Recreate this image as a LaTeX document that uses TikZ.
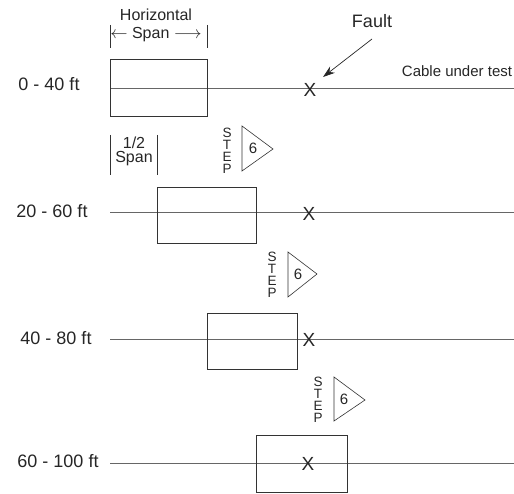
\documentclass[tikz,border=0pt]{standalone}
\usepackage{fontspec}
\setmainfont{Liberation Sans}
\usetikzlibrary{arrows.meta}
\begin{document}
\begin{tikzpicture}[x=1pt,y=-1pt,
  every node/.style={inner sep=0pt, outer sep=0pt, text=black!85},
  rowlabel/.style={font=\fontsize{18}{20}\selectfont},
  cable/.style={line width=1pt, draw=black!60},
  spanbox/.style={draw=black!80, line width=0.9pt},
  faultx/.style={font=\fontsize{19}{20}\selectfont},
  bar/.style={draw=black!80, line width=0.8pt},
  steptext/.style={font=\fontsize{13.5}{12}\selectfont, align=center},
  steptri/.style={draw=black!80, line width=0.6pt},
  stepnum/.style={font=\fontsize{15}{17}\selectfont},
  faultarrow/.style={draw=black!85, line width=0.7pt, -{Stealth[length=12pt,width=8pt]}}
]
\useasboundingbox (0,0) rectangle (514,494);

% --- cable lines ---
\coordinate (c1l) at (110,89);  \coordinate (c1r) at (514,89);
\coordinate (c2l) at (110,213); \coordinate (c2r) at (514,213);
\coordinate (c3l) at (110,339); \coordinate (c3r) at (514,339);
\coordinate (c4l) at (110,463); \coordinate (c4r) at (514,463);
\draw[cable] (c1l) -- (c1r);
\draw[cable] (c2l) -- (c2r);
\draw[cable] (c3l) -- (c3r);
\draw[cable] (c4l) -- (c4r);

% --- span boxes ---
\node[spanbox, minimum width=97pt, minimum height=57pt] (box1) at (158.5,87.5) {};
\node[spanbox, minimum width=99pt, minimum height=56pt] (box2) at (206.5,215) {};
\node[spanbox, minimum width=90pt, minimum height=56pt] (box3) at (252,341) {};
\node[spanbox, minimum width=91pt, minimum height=57pt] (box4) at (301.5,463.5) {};

% --- fault marks ---
\node[faultx] (x1) at (310,90) {X};
\node[faultx] (x2) at (309,214) {X};
\node[faultx] (x3) at (309,340) {X};
\node[faultx] (x4) at (308,464) {X};

% --- row labels ---
\node[rowlabel] (r1) at (49,84) {0 - 40 ft};
\node[rowlabel] (r2) at (52,211) {20 - 60 ft};
\node[rowlabel] (r3) at (56,338) {40 - 80 ft};
\node[rowlabel] (r4) at (58,461) {60 - 100 ft};

% --- fault label and arrow ---
\node[rowlabel] (fault) at (372,21) {Fault};
\coordinate (ftail) at (372,39);
\coordinate (fhead) at (323,77);
\draw[faultarrow] (ftail) -- (fhead);
\node[font=\fontsize{15}{17}\selectfont] (cable) at (457,71) {Cable under test};

% --- horizontal span label ---
\node[font=\fontsize{16}{17.5}\selectfont, align=center, anchor=north] (horiz) at (156,9)
  {Horizontal\\$\leftarrow$ Span $\longrightarrow$};
\coordinate (hb1t) at (110,25); \coordinate (hb1b) at (110,48);
\coordinate (hb2t) at (207,25); \coordinate (hb2b) at (207,48);
\draw[bar] (hb1t) -- (hb1b);
\draw[bar] (hb2t) -- (hb2b);

% --- half span label ---
\node[font=\fontsize{16}{13.5}\selectfont, align=center, anchor=north] (half) at (134,137)
  {1/2\\Span};
\coordinate (sb1t) at (110,135); \coordinate (sb1b) at (110,175);
\coordinate (sb2t) at (157,135); \coordinate (sb2b) at (157,175);
\draw[bar] (sb1t) -- (sb1b);
\draw[bar] (sb2t) -- (sb2b);

% --- step indicators ---
\node[steptext] (step1) at (227,151) {S\\T\\E\\P};
\coordinate (t1a) at (242,126); \coordinate (t1b) at (273,149); \coordinate (t1c) at (242,171);
\draw[steptri] (t1a) -- (t1b) -- (t1c) -- cycle;
\node[stepnum] (n1) at (253,148) {6};

\node[steptext] (step2) at (272,275) {S\\T\\E\\P};
\coordinate (t2a) at (288,252); \coordinate (t2b) at (317,274); \coordinate (t2c) at (288,297);
\draw[steptri] (t2a) -- (t2b) -- (t2c) -- cycle;
\node[stepnum] (n2) at (298,274) {6};

\node[steptext] (step3) at (318,400) {S\\T\\E\\P};
\coordinate (t3a) at (334,377); \coordinate (t3b) at (365,400); \coordinate (t3c) at (334,421);
\draw[steptri] (t3a) -- (t3b) -- (t3c) -- cycle;
\node[stepnum] (n3) at (344,399) {6};
\end{tikzpicture}
\end{document}
